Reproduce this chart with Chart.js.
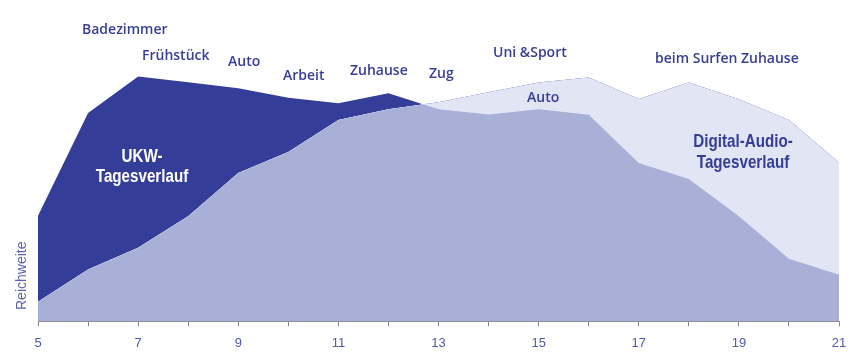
<!DOCTYPE html>
<html>
<head>
<meta charset="utf-8">
<script src="https://cdn.jsdelivr.net/npm/chart.js@4"></script>
<style>
html,body{margin:0;padding:0;background:#fff;}
#wrap{width:859px;height:364px;}
</style>
</head>
<body>
<div id="wrap"><canvas id="c" width="859" height="364"></canvas></div>
<script>
// Hours of the day (x axis)
const hours = [5, 6, 7, 8, 9, 10, 11, 12, 13, 14, 15, 16, 17, 18, 19, 20, 21];
// UKW daily reach (relative, 0-100)
const ukwReach = [35.3, 69.6, 81.8, 79.9, 77.9, 74.7, 72.9, 76.2, 70.9, 69.1, 70.9, 69.0, 52.9, 47.6, 35.1, 20.9, 15.6];
// Digital-Audio daily reach (relative, 0-100)
const digitalReach = [6.6, 17.3, 24.6, 35.1, 49.6, 56.6, 67.3, 70.9, 73.2, 76.5, 79.8, 81.5, 74.3, 79.8, 74.2, 67.3, 53.1];
// Labelled ticks
const tickLabels = [5, 7, 9, 11, 13, 15, 17, 19, 21];
// Activity annotations
const activityLabels = ["Badezimmer", "Frühstück", "Auto", "Arbeit", "Zuhause", "Zug", "Uni &Sport", "beim Surfen Zuhause", "Auto"];

const DARK = '#343d97';
const MID = '#a8b0d7';
const LIGHT = '#e1e5f4';
const TEXT = '#363f96';

const labelPos = [
  [82, 34], [142, 60], [228, 66], [283, 80], [350, 75.3], [429, 78.3],
  [493, 56.7], [655, 63.3], [527, 102.3]
];

function narrowText(ctx, text, cx, y) {
  ctx.save();
  ctx.translate(cx, y);
  ctx.scale(0.82, 1);
  ctx.fillText(text, 0, 0);
  ctx.restore();
}

const textPlugin = {
  id: 'texts',
  afterDraw(chart) {
    const ctx = chart.ctx;
    ctx.save();
    ctx.textBaseline = 'alphabetic';
    ctx.fillStyle = TEXT;
    ctx.font = '600 14px "Open Sans", sans-serif';
    ctx.textAlign = 'left';
    activityLabels.forEach((t, i) => {
      ctx.fillText(t, labelPos[i][0], labelPos[i][1]);
    });
    // series titles
    ctx.textAlign = 'center';
    ctx.font = 'bold 18.5px "Liberation Sans", Arial, sans-serif';
    ctx.fillStyle = '#ffffff';
    narrowText(ctx, 'UKW-', 142, 161.7);
    narrowText(ctx, 'Tagesverlauf', 142, 181.7);
    ctx.fillStyle = DARK;
    narrowText(ctx, 'Digital-Audio-', 743, 147.3);
    narrowText(ctx, 'Tagesverlauf', 743, 168.3);
    // y axis title
    ctx.translate(26, 310);
    ctx.rotate(-Math.PI / 2);
    ctx.textAlign = 'left';
    ctx.font = '14px "Liberation Sans", sans-serif';
    ctx.fillStyle = '#5a63ae';
    ctx.fillText('Reichweite', 0, 0);
    ctx.restore();
  }
};

new Chart(document.getElementById('c'), {
  type: 'line',
  data: {
    datasets: [
      {
        label: 'UKW',
        data: hours.map((h, i) => ({x: h, y: ukwReach[i]})),
        borderWidth: 0,
        borderColor: 'rgba(0,0,0,0)',
        pointRadius: 0,
        tension: 0,
        fill: {target: '+1', above: DARK, below: LIGHT}
      },
      {
        label: 'Digital-Audio',
        data: hours.map((h, i) => ({x: h, y: digitalReach[i]})),
        borderWidth: 0,
        borderColor: 'rgba(0,0,0,0)',
        pointRadius: 0,
        tension: 0,
        backgroundColor: MID,
        fill: 'origin'
      }
    ]
  },
  options: {
    responsive: false,
    animation: false,
    devicePixelRatio: 1,
    layout: {padding: {left: 38, right: 20, top: 22, bottom: 4}},
    plugins: {legend: {display: false}, tooltip: {enabled: false}},
    scales: {
      x: {
        type: 'linear',
        min: 5, max: 21,
        border: {display: true, color: '#8a8a8a', width: 1},
        grid: {drawOnChartArea: false, drawTicks: true, tickLength: 5, tickColor: '#8a8a8a'},
        ticks: {
          stepSize: 1, autoSkip: false, maxRotation: 0, padding: 9,
          color: '#4f59a9',
          font: {family: '"Liberation Sans", sans-serif', size: 13},
          callback: (v) => tickLabels.includes(v) ? String(v) : ''
        }
      },
      y: {display: false, min: 0, max: 100}
    }
  },
  plugins: [textPlugin]
});
</script>
</body>
</html>
